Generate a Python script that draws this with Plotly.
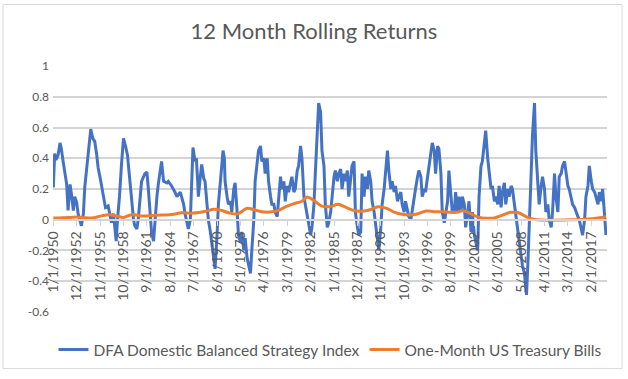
import plotly.graph_objects as go
import pandas as pd

# months after Jan 1950
dfa_months = [0,2,4,7,10,12,15,17,20,22,25,27,30,32,35,37,40,42,45,47,52,56,59,62,65,67,71,75,78,82,85,87,90,92,94,96,99,102,105,108,111,114,117,120,122,125,127,130,132,137,140,142,145,147,150,152,155,157,160,162,165,170,172,177,182,185,190,195,197,202,205,209,212,214,216,217,220,222,225,227,230,232,235,237,240,242,245,247,250,254,256,257,260,262,265,267,270,272,275,277,280,282,285,287,290,292,295,297,300,302,305,307,310,312,315,317,320,322,325,327,330,332,335,337,340,342,345,347,350,352,355,357,360,362,365,367,370,372,375,377,380,382,385,387,390,392,395,397,400,402,405,407,410,412,415,417,420,422,425,427,430,432,435,437,440,442,445,447,450,452,455,457,460,462,465,467,470,472,475,477,480,482,485,487,490,492,495,497,500,502,505,507,510,512,515,517,520,522,525,527,530,532,535,537,540,542,545,547,550,552,555,557,560,562,565,567,570,572,575,577,580,582,585,587,590,592,595,597,600,602,605,607,610,612,615,617,620,622,625,627,630,632,635,637,640,642,644,647,650,652,655,657,660,662,665,667,670,672,675,677,680,682,685,687,690,692,695,697,700,702,705,708,710,712,715,717,720,722,725,727,730,732,735,737,740,742,745,747,750,752,755,757,760,762,765,767,770,772,775,777,780,782,785,787,790,792,795,797,800,802,805,807,810,812,815,817,820,822,825,827]
dfa_values = [0.21,0.43,0.39,0.42,0.50,0.46,0.37,0.32,0.23,0.06,0.23,0.17,0.06,0.15,0.11,0.04,-0.02,-0.04,0.04,0.21,0.42,0.59,0.53,0.51,0.42,0.34,0.25,0.15,0.08,0.09,0.02,-0.02,0.04,-0.08,-0.14,0.00,0.15,0.36,0.53,0.48,0.42,0.28,0.11,0.00,-0.04,-0.06,0.00,0.15,0.25,0.30,0.31,0.21,0.04,-0.08,-0.14,0.00,0.15,0.23,0.34,0.38,0.25,0.24,0.25,0.22,0.18,0.15,0.18,0.10,0.04,-0.06,0.00,0.47,0.38,0.40,0.25,0.15,0.28,0.36,0.27,0.25,0.10,0.00,-0.08,-0.15,-0.25,-0.32,-0.10,0.10,0.25,0.45,0.40,0.25,0.15,0.10,0.12,0.05,0.20,0.24,0.05,-0.10,-0.15,-0.08,-0.20,-0.12,-0.25,-0.30,-0.35,-0.20,0.00,0.25,0.40,0.45,0.48,0.38,0.40,0.30,0.40,0.25,0.15,0.10,0.10,0.05,0.02,0.15,0.28,0.20,0.25,0.12,0.22,0.18,0.25,0.28,0.18,0.20,0.32,0.35,0.48,0.40,0.15,0.10,0.05,-0.02,-0.10,-0.05,0.10,0.30,0.55,0.76,0.70,0.45,0.35,0.10,-0.05,-0.02,0.05,0.15,0.28,0.32,0.25,0.30,0.33,0.20,0.30,0.25,0.32,0.15,0.25,0.35,0.38,0.05,-0.05,-0.10,-0.08,0.30,0.15,0.28,0.20,0.32,0.25,0.12,0.05,-0.02,-0.10,-0.20,-0.05,0.10,0.20,0.30,0.45,0.32,0.20,0.25,0.18,0.22,0.12,0.15,0.18,0.10,0.05,0.12,0.05,0.02,0.00,0.05,0.15,0.20,0.28,0.32,0.28,0.15,0.20,0.18,0.28,0.35,0.42,0.50,0.45,0.30,0.48,0.46,0.30,0.05,-0.02,0.05,0.12,0.32,0.15,0.05,0.05,0.18,0.05,0.15,0.05,0.15,0.10,-0.05,0.05,0.12,-0.08,0.05,-0.10,-0.15,-0.20,0.15,0.35,0.38,0.45,0.58,0.40,0.30,0.20,0.22,0.12,0.15,0.10,0.22,0.08,0.18,0.24,0.10,0.20,0.15,0.22,0.20,0.10,0.00,-0.10,-0.15,-0.25,-0.30,-0.35,-0.49,-0.30,-0.10,0.30,0.55,0.76,0.45,0.20,0.10,0.22,0.28,0.20,0.05,0.10,0.00,-0.05,0.05,0.30,0.15,0.05,0.28,0.30,0.35,0.38,0.30,0.22,0.20,0.15,0.10,0.08,0.05,0.02,0.00,-0.05,-0.10,0.00,0.15,0.22,0.35,0.25,0.20,0.18,0.15,0.10,0.18,0.12,0.20,0.05,-0.10]

tbill_months = [0,24,36,48,60,72,84,96,105,117,132,150,162,180,192,210,228,240,252,264,276,290,300,312,324,336,348,360,372,380,390,402,414,426,438,450,462,474,486,498,510,522,534,546,558,570,582,594,606,612,624,636,648,660,672,684,696,708,720,780,800,815,827]
tbill_values = [0.011,0.015,0.018,0.012,0.013,0.025,0.032,0.022,0.015,0.033,0.024,0.028,0.030,0.036,0.045,0.043,0.055,0.068,0.060,0.043,0.038,0.075,0.065,0.052,0.050,0.060,0.085,0.105,0.120,0.148,0.125,0.088,0.085,0.100,0.080,0.060,0.055,0.065,0.085,0.075,0.050,0.035,0.030,0.040,0.057,0.052,0.052,0.048,0.050,0.060,0.040,0.017,0.010,0.012,0.030,0.048,0.045,0.018,0.001,0.000,0.005,0.012,0.019]

tick_labels = ["1/1/1950","12/1/1952","11/1/1955","10/1/1958","9/1/1961","8/1/1964","7/1/1967",
               "6/1/1970","5/1/1973","4/1/1976","3/1/1979","2/1/1982","1/1/1985","12/1/1987",
               "11/1/1990","10/1/1993","9/1/1996","8/1/1999","7/1/2002","6/1/2005","5/1/2008",
               "4/1/2011","3/1/2014","2/1/2017"]
y_ticks = [-0.6,-0.4,-0.2,0,0.2,0.4,0.6,0.8,1]
y_tick_text = ["-0.6","-0.4","-0.2","0","0.2","0.4","0.6","0.8","1"]

start = pd.Timestamp("1950-01-01")
def to_dates(months):
    return [start + pd.DateOffset(months=m) for m in months]

tick_dates = [pd.to_datetime(t, format="%m/%d/%Y") for t in tick_labels]
x_range = [pd.Timestamp("1949-12-16"), pd.Timestamp("2019-01-16")]
grid = "#D4D4D4"
border = "#D9D9D9"

fig = go.Figure()
fig.add_trace(go.Scatter(x=to_dates(dfa_months), y=dfa_values, mode="lines",
                         name="DFA Domestic Balanced Strategy Index",
                         line=dict(color="#4472C4", width=3)))
fig.add_trace(go.Scatter(x=to_dates(tbill_months), y=tbill_values, mode="lines",
                         name="One-Month US Treasury Bills",
                         line=dict(color="#ED7D31", width=3, shape="spline")))
# invisible carrier trace for the date-label axis that sits on the zero line
fig.add_trace(go.Scatter(x=to_dates(tbill_months), y=tbill_values, mode="lines",
                         xaxis="x2", yaxis="y", showlegend=False, hoverinfo="skip",
                         line=dict(color="rgba(0,0,0,0)", width=0)))

font = "Lato, 'Open Sans', sans-serif"
fig.update_layout(
    template="none",
    width=628, height=379,
    margin=dict(l=53, r=21, t=66, b=61),
    paper_bgcolor="white", plot_bgcolor="white",
    font=dict(family=font, color="#595959", size=13),
    title=dict(text="12 Month Rolling Returns", x=0.5, xanchor="center",
               y=1 - 31/379, yanchor="middle", yref="container",
               font=dict(family=font, size=22, color="#595959")),
    showlegend=True,
    legend=dict(orientation="h", x=0.5, xanchor="center", y=-0.085, yanchor="top",
                font=dict(family=font, size=15.5, color="#595959")),
    xaxis=dict(type="date", range=x_range, anchor="y",
               showticklabels=False, showgrid=False, showline=False,
               zeroline=False, ticks=""),
    xaxis2=dict(type="date", range=x_range, overlaying="x",
                tickvals=tick_dates, ticktext=tick_labels, tickangle=-90,
                anchor="free", position=0.6/1.6, side="bottom",
                showgrid=False, showline=True, linecolor=grid, linewidth=2,
                zeroline=False, ticks="outside", ticklen=5, tickcolor=grid, tickwidth=1,
                tickfont=dict(family=font, size=14, color="#595959")),
    yaxis=dict(range=[-0.601, 1.001], tickvals=y_ticks, ticktext=y_tick_text,
               showgrid=True, gridcolor=grid, gridwidth=2,
               zeroline=False, showline=False, ticks="", ticklabelstandoff=3,
               tickfont=dict(family=font, size=12, color="#595959")),
)
fig.add_shape(type="rect", xref="paper", yref="paper",
              x0=(3-53)/554, x1=(622-53)/554, y0=(318-376)/252, y1=(318-3)/252,
              line=dict(color=border, width=1), fillcolor="rgba(0,0,0,0)", layer="above")
fig.write_html("out.html", config={"displayModeBar": False},
               post_script="document.body.style.margin='0';document.body.style.overflow='hidden';")
